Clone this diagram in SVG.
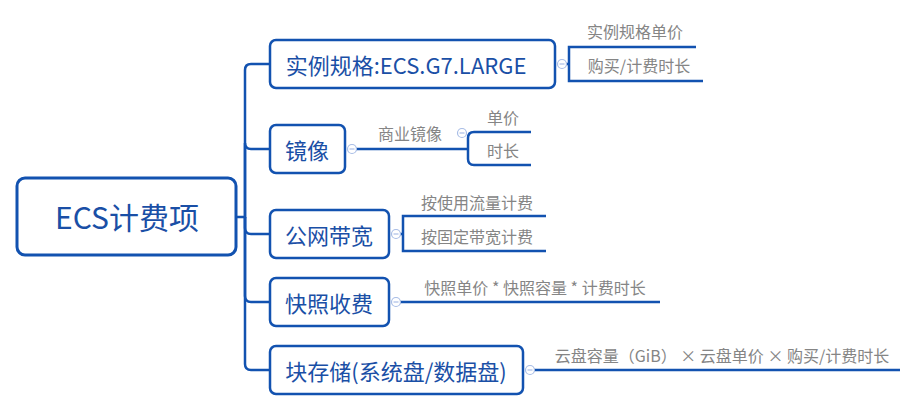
<svg xmlns="http://www.w3.org/2000/svg" width="918" height="411" viewBox="0 0 918 411">
<style>
.box{fill:#fff;stroke:#1252b0;stroke-width:2.5}
.root{fill:#fff;stroke:#1252b0;stroke-width:3}
.ln{fill:none;stroke:#1252b0;stroke-width:2.5}
.tx{font-family:"Noto Sans CJK SC","Microsoft YaHei",sans-serif;fill:#1a4fa6;text-anchor:middle;dominant-baseline:central}
.sub{font-family:"Noto Sans CJK SC","Microsoft YaHei",sans-serif;fill:#858585;font-size:16px;text-anchor:middle;dominant-baseline:central}
.cc{fill:#fff;stroke:#a8bde6;stroke-width:1.2}
.cm{stroke:#a8bde6;stroke-width:1.2}
</style>
<rect width="918" height="411" fill="#fff"/>
<g id="connectors">
<path class="ln" d="M237,217 H245 V70 Q245,64 251,64 H270"/>
<path class="ln" d="M245,217 V143 Q245,149 251,149 H270"/>
<path class="ln" d="M245,217 V228 Q245,234 251,234 H270"/>
<path class="ln" d="M245,217 V296 Q245,302 251,302 H270"/>
<path class="ln" d="M245,217 V364 Q245,370 251,370 H270"/>
<path class="ln" d="M566,64 H569 M696,47 H569 V81 H703"/>
<path class="ln" d="M356,149 H468 M531,132 H474 Q468,132 468,138 V159 Q468,165 474,165 H531"/>
<path class="ln" d="M400,234 H403 M546,216 H403 V251 H546"/>
<path class="ln" d="M400,302 H660"/>
<path class="ln" d="M534,370 H900"/>
</g>
<g id="root">
<rect class="root" x="17" y="178" width="219" height="77" rx="8"/>
<text class="tx" x="127" y="216" font-size="30">ECS计费项</text>
</g>
<g id="n1">
<rect class="box" x="270" y="40" width="285" height="48" rx="6"/>
<text class="tx" x="406" y="64" font-size="22">实例规格:ECS.G7.LARGE</text>
<circle class="cc" cx="562" cy="64" r="4.5"/><path class="cm" d="M559.5,64 H564.5"/>
</g>
<g id="n1a"><text class="sub" x="635" y="31">实例规格单价</text></g>
<g id="n1b"><text class="sub" x="639" y="65">购买/计费时长</text></g>
<g id="n2">
<rect class="box" x="270" y="125" width="75" height="48" rx="6"/>
<text class="tx" x="307" y="149" font-size="22">镜像</text>
<circle class="cc" cx="352" cy="149" r="4.5"/><path class="cm" d="M349.5,149 H354.5"/>
</g>
<g id="n2a">
<text class="sub" x="410" y="133">商业镜像</text>
<circle class="cc" cx="462" cy="133" r="4.5"/><path class="cm" d="M459.5,133 H464.5"/>
</g>
<g id="n2b"><text class="sub" x="503" y="117">单价</text></g>
<g id="n2c"><text class="sub" x="503" y="150">时长</text></g>
<g id="n3">
<rect class="box" x="270" y="210" width="119" height="48" rx="6"/>
<text class="tx" x="329" y="234" font-size="22">公网带宽</text>
<circle class="cc" cx="396" cy="234" r="4.5"/><path class="cm" d="M393.5,234 H398.5"/>
</g>
<g id="n3a"><text class="sub" x="477" y="202">按使用流量计费</text></g>
<g id="n3b"><text class="sub" x="477" y="236">按固定带宽计费</text></g>
<g id="n4">
<rect class="box" x="270" y="278" width="119" height="48" rx="6"/>
<text class="tx" x="329" y="302" font-size="22">快照收费</text>
<circle class="cc" cx="396" cy="302" r="4.5"/><path class="cm" d="M393.5,302 H398.5"/>
</g>
<g id="n4a"><text class="sub" x="535" y="287">快照单价 * 快照容量 * 计费时长</text></g>
<g id="n5">
<rect class="box" x="270" y="346" width="253" height="48" rx="6"/>
<text class="tx" x="396" y="370" font-size="22">块存储(系统盘/数据盘)</text>
<circle class="cc" cx="530" cy="370" r="4.5"/><path class="cm" d="M527.5,370 H532.5"/>
</g>
<g id="n5a"><text class="sub" x="722" y="355">云盘容量（GiB） × 云盘单价 × 购买/计费时长</text></g>
</svg>
